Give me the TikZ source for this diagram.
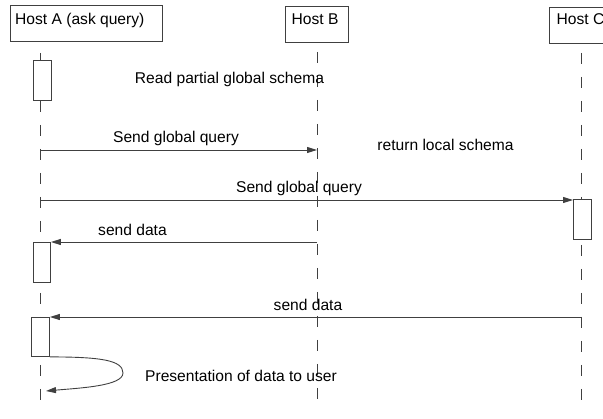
\documentclass[tikz,border=0pt]{standalone}
\usepackage{fontspec}
\setmainfont{Liberation Sans}
\usetikzlibrary{arrows.meta}
\begin{document}
\begin{tikzpicture}[x=1pt,y=-1pt,
  txt/.style={font=\fontsize{15.6}{18}\selectfont, inner sep=0pt, text=black},
  hostbox/.style={draw=black!75, line width=0.9pt, fill=white, inner sep=0pt, anchor=north west},
  actbox/.style={draw=black!75, line width=0.9pt, fill=white, inner sep=0pt, anchor=north west, minimum width=18, minimum height=40},
  lifeline/.style={draw=black!75, line width=0.9pt, dash pattern=on 11pt off 13pt},
  msg/.style={draw=black!75, line width=0.9pt, -{Triangle[length=10pt,width=6pt]}}]
\useasboundingbox (0,0) rectangle (603,419);

% participants
\node[hostbox, minimum width=152, minimum height=36] (hA) at (10,5) {};
\node[hostbox, minimum width=63, minimum height=36] (hB) at (285,6) {};
\node[hostbox, minimum width=66, minimum height=36] (hC) at (549,7) {};
\node[txt, anchor=base west] (tA) at (15,25) {Host A (ask query)};
\node[txt, anchor=base west] (tB) at (291.5,25) {Host B};
\node[txt, anchor=base west] (tC) at (556.5,25) {Host C};

% lifelines
\coordinate (A0) at (40,41);   \coordinate (A1) at (40,410);
\coordinate (B0) at (317,42);  \coordinate (B1) at (317,410);
\coordinate (C0) at (581,43);  \coordinate (C1) at (581,410);
\draw[lifeline, dash phase=-12pt] (A0) -- (A1);
\draw[lifeline, dash phase=-10pt] (B0) -- (B1);
\draw[lifeline, dash phase=-10pt] (C0) -- (C1);

% activations
\node[actbox] (actA1) at (33,60) {};
\node[actbox] (actC1) at (573,199) {};
\node[actbox, minimum width=17] (actA2) at (33,242) {};
\node[actbox, minimum height=39] (actA3) at (31,317) {};

% messages
\coordinate (m1s) at (40,150);  \coordinate (m1e) at (317,150);
\draw[msg] (m1s) -- (m1e);
\coordinate (m2s) at (40,200);
\draw[msg] (m2s) -- (actC1.west |- m2s);
\coordinate (m3s) at (317,242);
\draw[msg] (m3s) -- (actA2.north east);
\coordinate (m4s) at (581,317);
\draw[msg] (m4s) -- (actA3.north east);
\coordinate (selfEnd) at (46,391);
\draw[msg] (actA3.south east) .. controls (100,357) and (123,360) .. (123,373)
  .. controls (123,386) and (80,388) .. (selfEnd);

% labels
\node[txt, anchor=base] (lRead) at (229.5,84) {Read partial global schema};
\node[txt, anchor=base] (l1) at (176,143) {Send global query};
\node[txt, anchor=base] (lRet) at (445.5,151) {return local schema};
\node[txt, anchor=base] (l2) at (299,193) {Send global query};
\node[txt, anchor=base] (l3) at (132.5,236) {send data};
\node[txt, anchor=base] (l4) at (308,311) {send data};
\node[txt, anchor=base] (l5) at (241,382) {Presentation of data to user};
\end{tikzpicture}
\end{document}
